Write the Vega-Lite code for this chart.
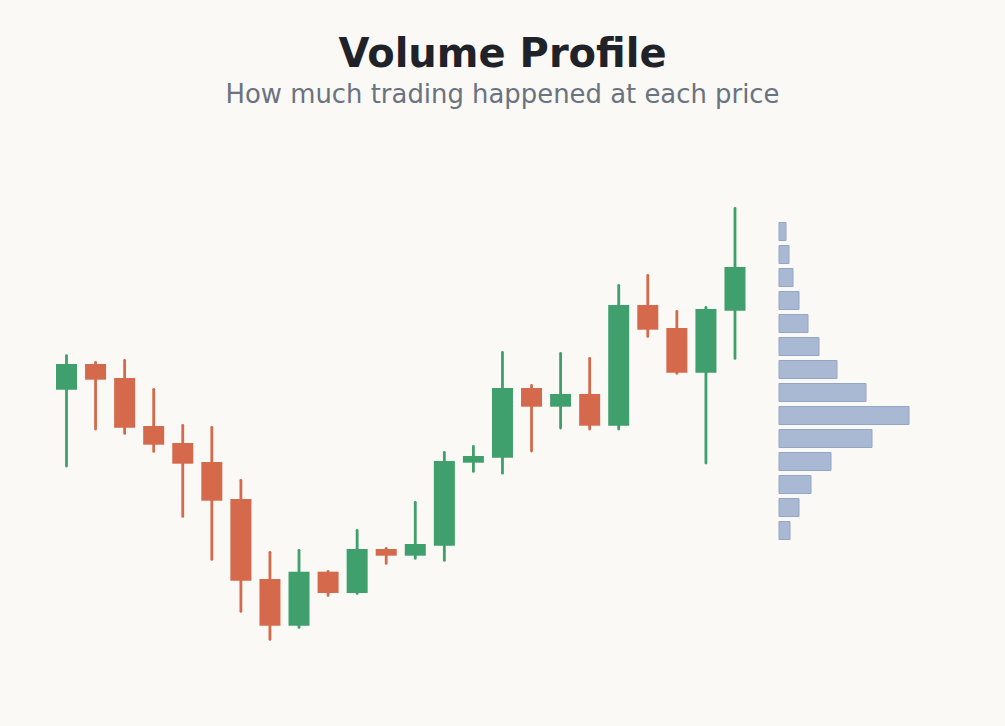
{
  "$schema": "https://vega.github.io/schema/vega-lite/v6.json",
  "width": 1005,
  "height": 600,
  "autosize": "none",
  "padding": {"top": 126, "left": 0, "right": 0, "bottom": 0},
  "background": "#faf9f5",
  "config": {
    "view": {"stroke": null},
    "font": "DejaVu Sans"
  },
  "title": {
    "text": "Volume Profile",
    "subtitle": "How much trading happened at each price",
    "anchor": "middle",
    "font": "DejaVu Sans",
    "fontSize": 40,
    "fontWeight": "bold",
    "color": "#1f2329",
    "subtitleFont": "DejaVu Sans",
    "subtitleFontSize": 25.9,
    "subtitleColor": "#6b7280",
    "subtitlePadding": 8,
    "offset": 18.5
  },
  "datasets": {
    "candles": [
      {"day": 1, "open": 157.26, "close": 162.4, "high": 164.08, "low": 142.0},
      {"day": 2, "open": 162.4, "close": 159.26, "high": 162.74, "low": 149.4},
      {"day": 3, "open": 159.6, "close": 149.66, "high": 163.14, "low": 148.52},
      {"day": 4, "open": 150.0, "close": 146.26, "high": 157.34, "low": 144.92},
      {"day": 5, "open": 146.6, "close": 142.46, "high": 150.14, "low": 131.92},
      {"day": 6, "open": 142.8, "close": 135.06, "high": 149.74, "low": 123.32},
      {"day": 7, "open": 135.4, "close": 119.06, "high": 139.14, "low": 112.92},
      {"day": 8, "open": 119.4, "close": 110.06, "high": 124.74, "low": 107.32},
      {"day": 9, "open": 110.06, "close": 120.86, "high": 125.14, "low": 109.72},
      {"day": 10, "open": 120.86, "close": 116.6, "high": 120.9, "low": 116.12},
      {"day": 11, "open": 116.6, "close": 125.4, "high": 129.14, "low": 116.5},
      {"day": 12, "open": 125.4, "close": 124.06, "high": 125.54, "low": 122.52},
      {"day": 13, "open": 124.06, "close": 126.4, "high": 134.74, "low": 123.52},
      {"day": 14, "open": 126.06, "close": 143.0, "high": 144.74, "low": 123.12},
      {"day": 15, "open": 142.66, "close": 144.0, "high": 145.94, "low": 140.92},
      {"day": 16, "open": 143.66, "close": 157.6, "high": 164.74, "low": 140.56},
      {"day": 17, "open": 157.6, "close": 153.86, "high": 158.14, "low": 145.0},
      {"day": 18, "open": 153.86, "close": 156.4, "high": 164.54, "low": 149.6},
      {"day": 19, "open": 156.4, "close": 150.06, "high": 163.54, "low": 149.4},
      {"day": 20, "open": 150.06, "close": 174.2, "high": 178.14, "low": 149.4},
      {"day": 21, "open": 174.2, "close": 169.26, "high": 180.14, "low": 167.92},
      {"day": 22, "open": 169.6, "close": 160.66, "high": 172.94, "low": 160.52},
      {"day": 23, "open": 160.66, "close": 173.4, "high": 173.74, "low": 142.6},
      {"day": 24, "open": 173.06, "close": 181.8, "high": 193.54, "low": 163.52}
    ],
    "profile": [
      {"price": 188.9, "volume": 70},
      {"price": 184.3, "volume": 100},
      {"price": 179.7, "volume": 140},
      {"price": 175.1, "volume": 200},
      {"price": 170.5, "volume": 290},
      {"price": 165.9, "volume": 400},
      {"price": 161.3, "volume": 580},
      {"price": 156.7, "volume": 870},
      {"price": 152.1, "volume": 1300},
      {"price": 147.5, "volume": 930},
      {"price": 142.9, "volume": 520},
      {"price": 138.3, "volume": 320},
      {"price": 133.7, "volume": 200},
      {"price": 129.1, "volume": 110}
    ]
  },
  "layer": [
    {
      "data": {"name": "candles"},
      "transform": [
        {"calculate": "datum.close >= datum.open ? 'up' : 'down'", "as": "direction"}
      ],
      "encoding": {
        "x": {
          "field": "day",
          "type": "quantitative",
          "scale": {"domain": [-1.288, 33.29], "nice": false, "zero": false, "padding": 0},
          "axis": null
        },
        "color": {
          "field": "direction",
          "type": "nominal",
          "scale": {"domain": ["up", "down"], "range": ["#3f9f6d", "#d4694b"]},
          "legend": null
        }
      },
      "layer": [
        {
          "mark": {"type": "rule", "strokeWidth": 2.8, "strokeCap": "round"},
          "encoding": {
            "y": {
              "field": "low",
              "type": "quantitative",
              "scale": {"domain": [90, 210], "nice": false, "zero": false, "padding": 0},
              "axis": null
            },
            "y2": {"field": "high"}
          }
        },
        {
          "mark": {"type": "bar", "size": 21},
          "encoding": {
            "y": {
              "field": "open",
              "type": "quantitative",
              "scale": {"domain": [90, 210], "nice": false, "zero": false, "padding": 0},
              "axis": null
            },
            "y2": {"field": "close"}
          }
        }
      ]
    },
    {
      "data": {"name": "profile"},
      "mark": {
        "type": "bar",
        "orient": "horizontal",
        "size": 18,
        "fill": "#a9b9d3",
        "stroke": "#93a6c6",
        "strokeWidth": 1
      },
      "encoding": {
        "x": {
          "field": "volume",
          "type": "quantitative",
          "scale": {"domain": [-7790, 2260], "nice": false, "padding": 0},
          "axis": null
        },
        "y": {
          "field": "price",
          "type": "quantitative",
          "scale": {"domain": [90, 210], "nice": false, "zero": false, "padding": 0},
          "axis": null
        }
      }
    }
  ],
  "resolve": {"scale": {"x": "independent", "color": "independent"}}
}
